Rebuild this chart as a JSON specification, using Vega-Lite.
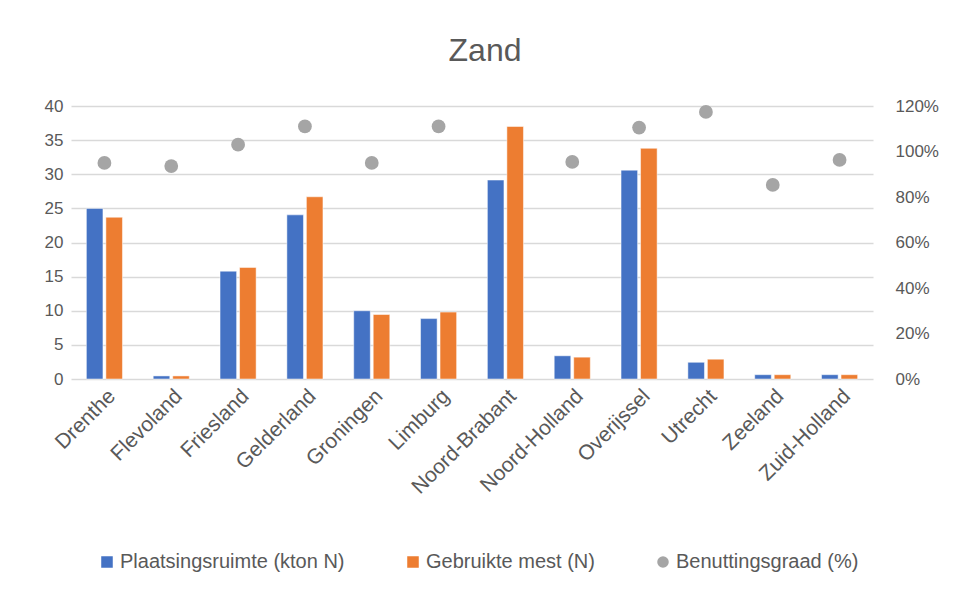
{
  "$schema": "https://vega.github.io/schema/vega-lite/v6.json",
  "width": 802,
  "height": 273,
  "autosize": {"type": "none"},
  "padding": {"left": 71, "top": 106, "right": 87, "bottom": 216},
  "background": "white",
  "title": {"text": "Zand", "fontSize": 32, "font": "Liberation Sans", "fontWeight": "normal", "color": "#595959", "anchor": "middle", "offset": 29, "dx": 13},
  "config": {
    "view": {"stroke": null},
    "font": "Liberation Sans",
    "axis": {"labelFont": "Liberation Sans", "labelFontSize": 16, "labelColor": "#595959", "ticks": false, "domain": false, "titleFontSize": 16},
    "legend": {"labelFont": "Liberation Sans", "labelFontSize": 20, "labelColor": "#595959", "labelLimit": 0}
  },
  "data": {"values": [
    {"provincie": "Drenthe", "series": "Plaatsingsruimte (kton N)", "value": 25.0},
    {"provincie": "Drenthe", "series": "Gebruikte mest (N)", "value": 23.7},
    {"provincie": "Drenthe", "series": "Benuttingsgraad (%)", "value": 0.95},
    {"provincie": "Flevoland", "series": "Plaatsingsruimte (kton N)", "value": 0.45},
    {"provincie": "Flevoland", "series": "Gebruikte mest (N)", "value": 0.45},
    {"provincie": "Flevoland", "series": "Benuttingsgraad (%)", "value": 0.936},
    {"provincie": "Friesland", "series": "Plaatsingsruimte (kton N)", "value": 15.8},
    {"provincie": "Friesland", "series": "Gebruikte mest (N)", "value": 16.35},
    {"provincie": "Friesland", "series": "Benuttingsgraad (%)", "value": 1.03},
    {"provincie": "Gelderland", "series": "Plaatsingsruimte (kton N)", "value": 24.05},
    {"provincie": "Gelderland", "series": "Gebruikte mest (N)", "value": 26.7},
    {"provincie": "Gelderland", "series": "Benuttingsgraad (%)", "value": 1.11},
    {"provincie": "Groningen", "series": "Plaatsingsruimte (kton N)", "value": 10.0},
    {"provincie": "Groningen", "series": "Gebruikte mest (N)", "value": 9.45},
    {"provincie": "Groningen", "series": "Benuttingsgraad (%)", "value": 0.95},
    {"provincie": "Limburg", "series": "Plaatsingsruimte (kton N)", "value": 8.85},
    {"provincie": "Limburg", "series": "Gebruikte mest (N)", "value": 9.8},
    {"provincie": "Limburg", "series": "Benuttingsgraad (%)", "value": 1.11},
    {"provincie": "Noord-Brabant", "series": "Plaatsingsruimte (kton N)", "value": 29.15},
    {"provincie": "Noord-Brabant", "series": "Gebruikte mest (N)", "value": 37.0},
    {"provincie": "Noord-Holland", "series": "Plaatsingsruimte (kton N)", "value": 3.4},
    {"provincie": "Noord-Holland", "series": "Gebruikte mest (N)", "value": 3.2},
    {"provincie": "Noord-Holland", "series": "Benuttingsgraad (%)", "value": 0.954},
    {"provincie": "Overijssel", "series": "Plaatsingsruimte (kton N)", "value": 30.6},
    {"provincie": "Overijssel", "series": "Gebruikte mest (N)", "value": 33.8},
    {"provincie": "Overijssel", "series": "Benuttingsgraad (%)", "value": 1.105},
    {"provincie": "Utrecht", "series": "Plaatsingsruimte (kton N)", "value": 2.45},
    {"provincie": "Utrecht", "series": "Gebruikte mest (N)", "value": 2.9},
    {"provincie": "Utrecht", "series": "Benuttingsgraad (%)", "value": 1.174},
    {"provincie": "Zeeland", "series": "Plaatsingsruimte (kton N)", "value": 0.63},
    {"provincie": "Zeeland", "series": "Gebruikte mest (N)", "value": 0.63},
    {"provincie": "Zeeland", "series": "Benuttingsgraad (%)", "value": 0.853},
    {"provincie": "Zuid-Holland", "series": "Plaatsingsruimte (kton N)", "value": 0.63},
    {"provincie": "Zuid-Holland", "series": "Gebruikte mest (N)", "value": 0.63},
    {"provincie": "Zuid-Holland", "series": "Benuttingsgraad (%)", "value": 0.963}
  ]},
  "encoding": {
    "x": {"field": "provincie", "type": "nominal", "sort": null, "title": null,
      "scale": {"paddingInner": 0.46, "paddingOuter": 0.23},
      "axis": {"labelAngle": -45, "labelPadding": 6, "labelFontSize": 21, "grid": false}}
  },
  "layer": [
    {
      "transform": [{"filter": "datum.series !== 'Benuttingsgraad (%)'"}],
      "mark": {"type": "bar", "stroke": "white", "strokeWidth": 0.5},
      "encoding": {
        "xOffset": {"field": "series", "type": "nominal", "sort": ["Plaatsingsruimte (kton N)", "Gebruikte mest (N)"], "scale": {"paddingInner": 0.15}},
        "y": {"field": "value", "type": "quantitative", "title": null,
          "scale": {"domain": [0, 40]},
          "axis": {"values": [0, 5, 10, 15, 20, 25, 30, 35, 40], "grid": true, "gridColor": "#D9D9D9", "gridWidth": 1.5, "labelPadding": 8, "labelFontSize": 17}},
        "color": {"field": "series", "type": "nominal", "title": null,
          "scale": {"domain": ["Plaatsingsruimte (kton N)", "Gebruikte mest (N)", "Benuttingsgraad (%)"], "range": ["#4472C4", "#ED7D31", "#A5A5A5"]},
          "legend": {"orient": "none", "direction": "horizontal", "legendX": 26, "legendY": 446, "symbolType": "square", "symbolSize": 170, "columnPadding": 58, "labelOffset": 3}}
      }
    },
    {
      "transform": [{"filter": "datum.series === 'Benuttingsgraad (%)'"}],
      "mark": {"type": "point", "filled": true, "opacity": 1, "size": 190},
      "encoding": {
        "y": {"field": "value", "type": "quantitative", "title": null,
          "scale": {"domain": [0, 1.2]},
          "axis": {"orient": "right", "format": ".0%", "values": [0, 0.2, 0.4, 0.6, 0.8, 1.0, 1.2], "grid": false, "labelPadding": 22, "labelFontSize": 17}},
        "color": {"field": "series", "type": "nominal", "title": null},
        "shape": {"field": "series", "type": "nominal", "title": null,
          "scale": {"domain": ["Plaatsingsruimte (kton N)", "Gebruikte mest (N)", "Benuttingsgraad (%)"], "range": ["square", "square", "circle"]}}
      }
    }
  ],
  "resolve": {"scale": {"y": "independent"}}
}
